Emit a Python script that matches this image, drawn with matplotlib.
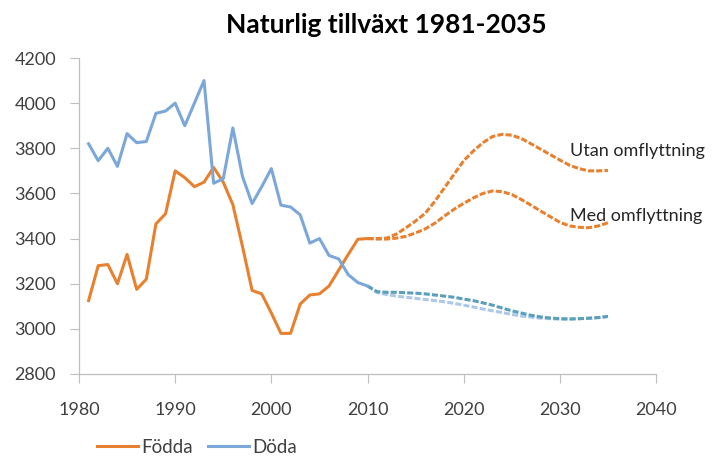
import matplotlib
matplotlib.use("Agg")
import matplotlib.pyplot as plt
from matplotlib.lines import Line2D

plt.rcParams["font.family"] = ["Lato", "DejaVu Sans"]

# Historical data 1981-2010
hist_years = list(range(1981, 2011))
fodda = [3125, 3280, 3285, 3200, 3330, 3175, 3220, 3465, 3510, 3700,
         3670, 3630, 3650, 3715, 3650, 3550, 3365, 3170, 3155, 3070,
         2980, 2980, 3110, 3150, 3155, 3190, 3260, 3330, 3397, 3400]
doda = [3820, 3745, 3800, 3720, 3865, 3825, 3830, 3955, 3965, 4000,
        3900, 4000, 4100, 3645, 3665, 3890, 3675, 3555, 3630, 3710,
        3548, 3540, 3505, 3380, 3400, 3325, 3310, 3240, 3205, 3190]

# Projections 2010-2035
proj_years = list(range(2010, 2036))
fodda_utan = [3400, 3400, 3402, 3420, 3448, 3478, 3512, 3565, 3625, 3685,
              3745, 3788, 3825, 3852, 3862, 3858, 3843, 3820, 3796, 3772,
              3748, 3725, 3710, 3700, 3700, 3702]
fodda_med = [3400, 3398, 3398, 3402, 3410, 3425, 3443, 3468, 3500, 3530,
             3556, 3580, 3600, 3611, 3608, 3595, 3573, 3548, 3522, 3497,
             3472, 3456, 3450, 3448, 3456, 3470]
doda_utan = [3190, 3165, 3162, 3162, 3160, 3158, 3155, 3150, 3145, 3140,
             3132, 3125, 3115, 3105, 3092, 3080, 3070, 3060, 3053, 3048,
             3045, 3044, 3045, 3047, 3050, 3055]
doda_med = [3190, 3160, 3152, 3145, 3140, 3135, 3130, 3125, 3120, 3113,
            3105, 3097, 3088, 3080, 3072, 3064, 3057, 3052, 3047, 3045,
            3043, 3043, 3045, 3047, 3050, 3055]

ORANGE = "#E8812F"
BLUE = "#7BA7D9"
TEAL = "#5A9FBC"
LIGHT = "#AEC8EA"
AXIS = "#BFBFBF"
TEXT = "#404040"

fig = plt.figure(figsize=(7.16, 4.59), dpi=100)
ax = fig.add_axes([0.1103, 0.1852, 0.806, 0.6884])

dash = (0, (2.0, 0.7))
ax.plot(proj_years, doda_med, color=LIGHT, lw=2.2, linestyle=dash)
ax.plot(proj_years, doda_utan, color=TEAL, lw=2.2, linestyle=dash)
ax.plot(proj_years, fodda_med, color=ORANGE, lw=2.2, linestyle=dash)
ax.plot(proj_years, fodda_utan, color=ORANGE, lw=2.2, linestyle=dash)
ax.plot(hist_years, fodda, color=ORANGE, lw=2.2)
ax.plot(hist_years, doda, color=BLUE, lw=2.2)

# series labels on the projections
ax.text(2031.0, 3766, "Utan omflyttning", fontsize=13, color="#262626",
        ha="left", va="baseline", clip_on=False)
ax.text(2031.0, 3478, "Med omflyttning", fontsize=13, color="#262626",
        ha="left", va="baseline", clip_on=False)

ax.set_xlim(1980, 2040)
ax.set_ylim(2800, 4200)
ax.set_xticks(range(1980, 2041, 10))
ax.set_yticks(range(2800, 4201, 200))

for s in ("top", "right"):
    ax.spines[s].set_visible(False)
for s in ("left", "bottom"):
    ax.spines[s].set_color(AXIS)
    ax.spines[s].set_linewidth(0.9)
ax.tick_params(axis="both", colors=AXIS, labelcolor=TEXT, labelsize=13, length=6.5)
ax.tick_params(axis="x", pad=14)
ax.tick_params(axis="y", pad=10)

fig.text(0.539, 0.928, "Naturlig tillväxt 1981-2035", fontsize=19,
         fontweight="bold", color="#000000", ha="center", va="baseline")

handles = [Line2D([], [], color=ORANGE, lw=2.2), Line2D([], [], color=BLUE, lw=2.2)]
fig.legend(handles, ["Födda", "Döda"], loc="center left", bbox_to_anchor=(0.1355, 0.026),
           ncol=2, frameon=False, fontsize=13.5, handlelength=2.2,
           handletextpad=0.15, columnspacing=0.8, labelcolor=TEXT,
           borderaxespad=0, borderpad=0)

fig.savefig("out.png", dpi=100, facecolor="white")
